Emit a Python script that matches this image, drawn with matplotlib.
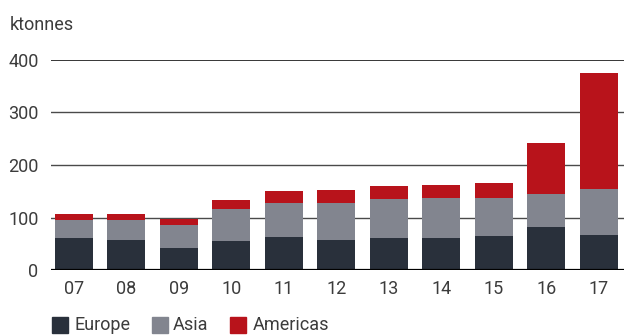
import numpy as np
import matplotlib
matplotlib.use("Agg")
import matplotlib.pyplot as plt
from matplotlib.patches import Rectangle

# data (ktonnes)
years = ["07", "08", "09", "10", "11", "12", "13", "14", "15", "16", "17"]
europe = [61, 58, 42, 56, 63, 58, 61, 61, 65, 82, 67]
asia = [34, 38, 44, 61, 65, 70, 75, 77, 72, 63, 88]
americas = [12, 11, 12, 17, 23, 25, 24, 24, 29, 97, 220]

colors = {"Europe": "#29303b", "Asia": "#82858f", "Americas": "#b8131b"}
text_col = "#3c3c3c"

plt.rcParams["font.family"] = ["Roboto", "DejaVu Sans"]

fig = plt.figure(figsize=(6.24, 3.36), dpi=100)
ax = fig.add_axes([51 / 624, 1 - 270.3 / 336, 573 / 624, 210.6 / 336])

x = np.arange(len(years))
w = 0.72
b1 = np.array(europe)
b2 = b1 + np.array(asia)
ax.bar(x, europe, w, color=colors["Europe"], zorder=3)
ax.bar(x, asia, w, bottom=b1, color=colors["Asia"], zorder=3)
ax.bar(x, americas, w, bottom=b2, color=colors["Americas"], zorder=3)

ax.set_ylim(0, 400)
ax.set_xlim(-0.434, 10.48)
for v in [100, 200, 300]:
    ax.axhline(v, color="#4a4a4a", lw=1.0, zorder=2)
ax.axhline(400, color="black", lw=1.1, zorder=2)
ax.axhline(0, color="black", lw=1.6, zorder=4)

for s in ax.spines.values():
    s.set_visible(False)
ax.set_yticks([0, 100, 200, 300, 400])
ax.set_xticks(x)
ax.set_xticklabels(years)
ax.tick_params(length=0, labelsize=13, colors=text_col)
ax.tick_params(axis="y", pad=9)
ax.tick_params(axis="x", pad=7)

fig.text(10 / 624, 1 - 25 / 336, "ktonnes", fontsize=13, color=text_col, va="center")

# legend
leg = [("Europe", 52, 74), ("Asia", 152, 173), ("Americas", 230, 253)]
for name, sx, tx in leg:
    fig.patches.append(Rectangle((sx / 624, 1 - 333 / 336), 16 / 624, 16 / 336,
                                 transform=fig.transFigure, color=colors[name]))
    fig.text(tx / 624, 1 - 325 / 336, name, fontsize=13, color=text_col, va="center")

fig.savefig("out.png", dpi=100)
